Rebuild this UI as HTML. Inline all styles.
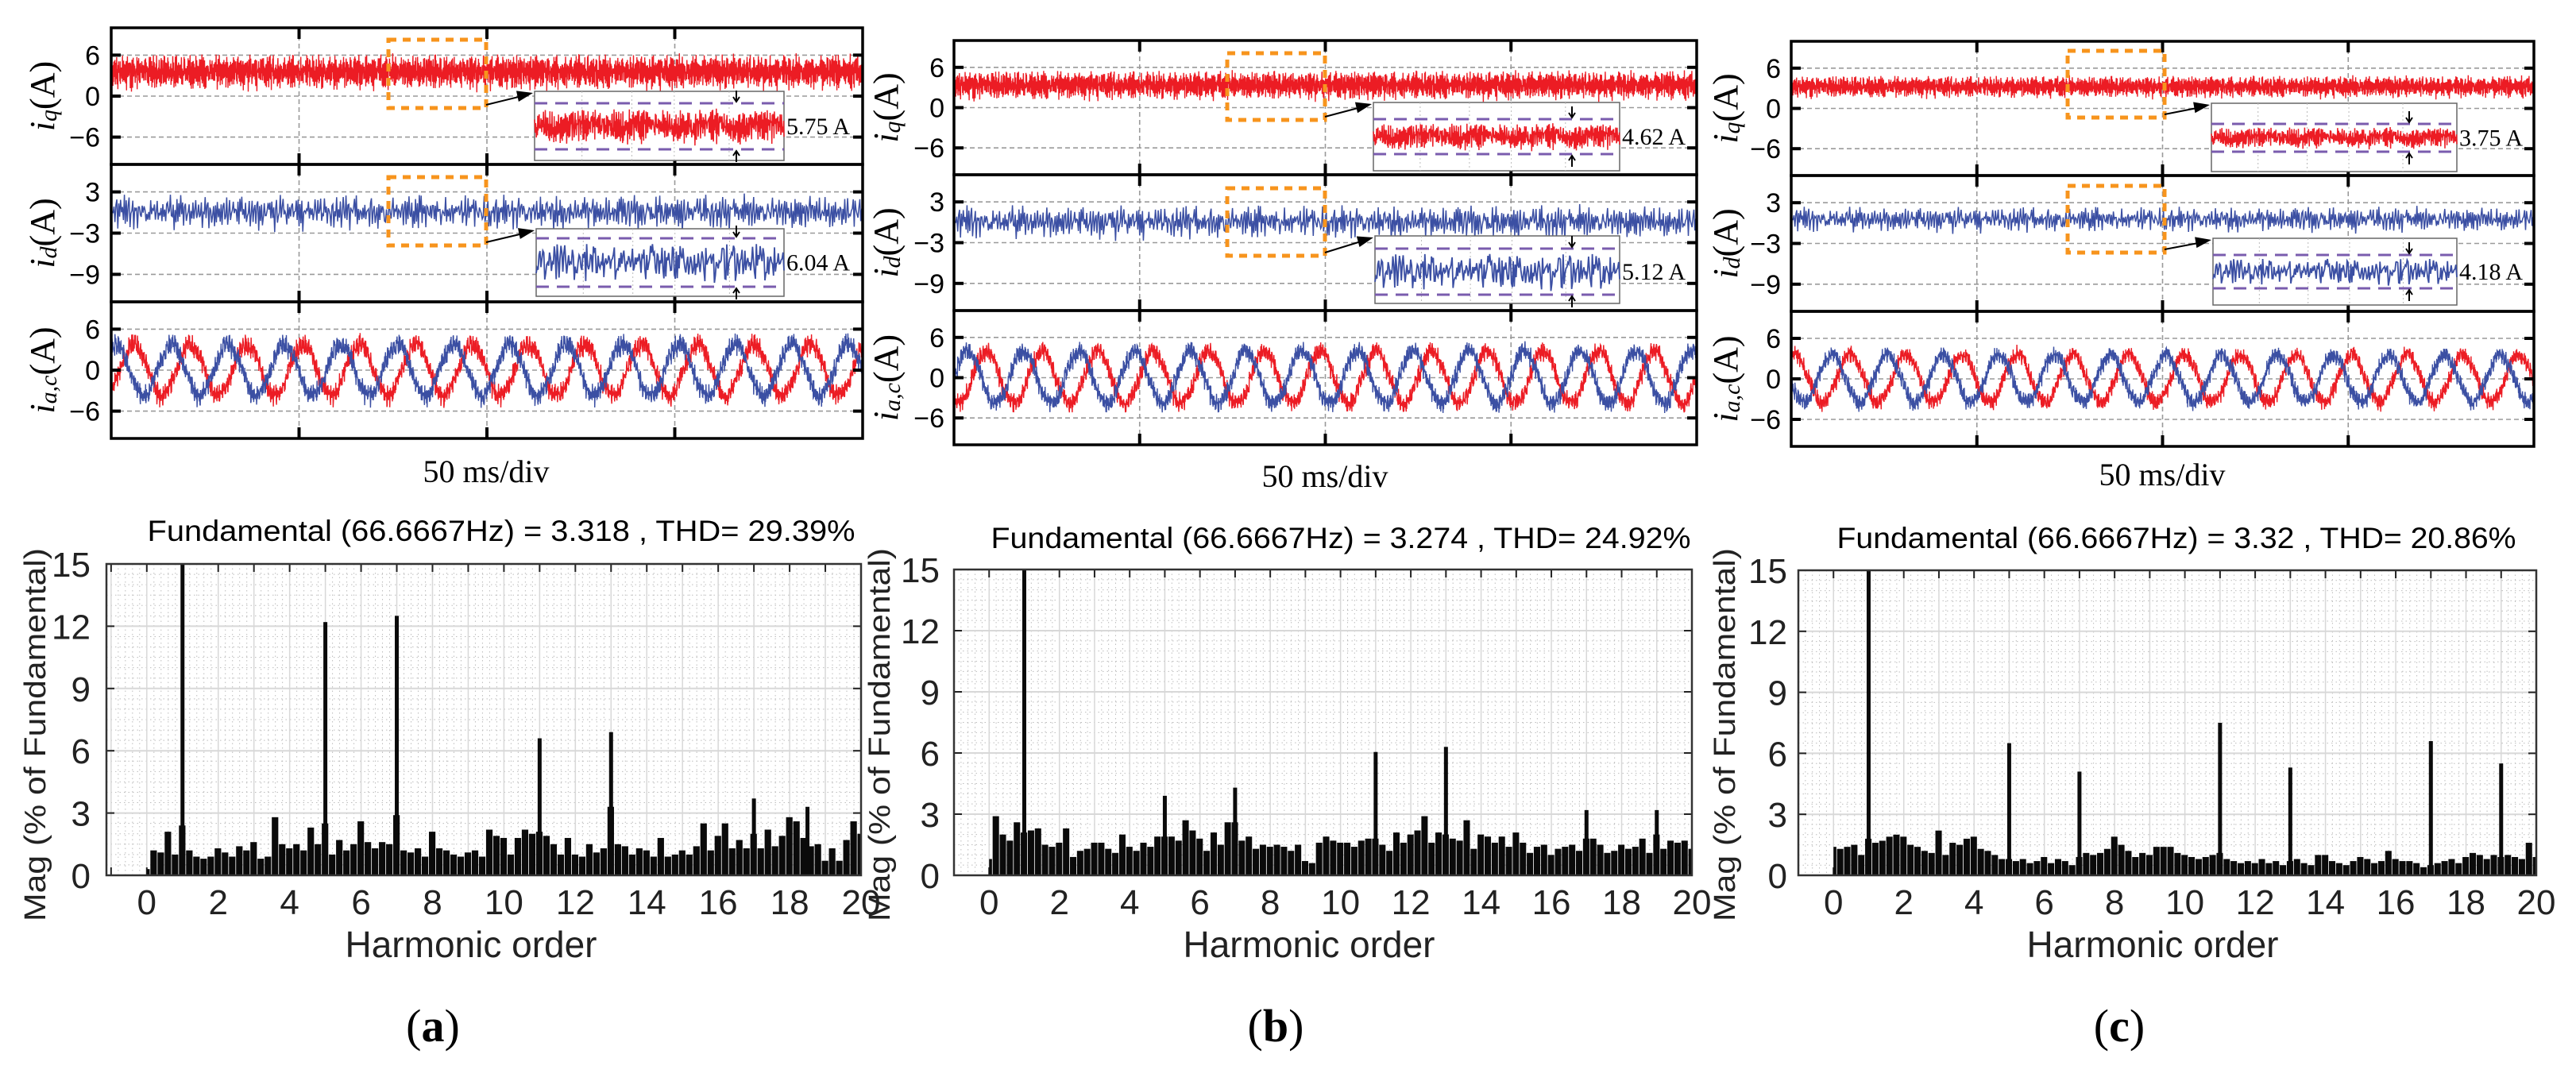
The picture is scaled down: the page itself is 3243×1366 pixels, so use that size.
<!DOCTYPE html>
<html><head><meta charset="utf-8"><title>Current waveforms and harmonic spectra</title>
<style>
html,body{margin:0;padding:0;background:#fff;}
svg{display:block;}
.sans{font-family:"Liberation Sans",sans-serif;}
.serif{font-family:"Liberation Serif",serif;}
</style></head>
<body>
<svg id="fig" xmlns="http://www.w3.org/2000/svg" width="3243" height="1366" viewBox="0 0 3243 1366"></svg>
<script>
// ---------- DATA ----------
const panelLetters = ['a','b','c'];
const titleTexts = ['Fundamental (66.6667Hz) = 3.318 , THD= 29.39%','Fundamental (66.6667Hz) = 3.274 , THD= 24.92%','Fundamental (66.6667Hz) = 3.32 , THD= 20.86%'];
const iqMean = [3.5, 3.3, 3.2];
const iqHalf = [3.0, 2.5, 1.9];
const idMean = [0.0, 0.0, 0.5];
const idHalf = [3.0, 2.9, 2.2];
const acAmp = [3.8, 3.8, 3.6];
const acNoise = [1.9, 1.8, 1.6];
const acRedPeakMs = [21, 8.6, 1.0];
const insetTopVals = [5.75, 4.62, 3.75];
const insetMidVals = [6.04, 5.12, 4.18];
const iqTicks = [6, 0, -6];
const idTicks = [3, -3, -9];
const acTicks = [6, 0, -6];
const specYTicks = [0, 3, 6, 9, 12, 15];
const specXTicks = [0, 2, 4, 6, 8, 10, 12, 14, 16, 18, 20];
const noisePattern = [0.82,-0.35,0.41,-0.93,0.17,0.66,-0.58,0.05,-0.21,0.94,-0.72,0.33,-0.12,0.58,-0.87,0.24,0.71,-0.46,-0.03,0.89,-0.64,0.12,0.47,-0.98,0.36,-0.27,0.77,-0.51,0.09,0.62,-0.81,0.28,-0.39,0.53,-0.15,0.85,-0.69];
// spectrum floor, one value per 0.2 harmonic order from 0 to 20
const floorA = [0.3,1.2,1.1,2.1,1.0,2.4,1.2,0.9,0.8,0.9,1.3,1.1,0.9,1.4,1.2,1.6,0.8,0.9,2.8,1.5,1.3,1.5,1.2,2.3,1.5,2.5,1.0,1.7,1.2,1.5,2.6,1.6,1.3,1.6,1.5,2.9,1.2,1.1,1.3,0.9,2.1,1.3,1.2,1.0,0.9,1.1,1.2,0.9,2.2,1.9,1.8,1.0,1.8,2.2,2.0,2.1,1.9,1.5,1.0,1.8,1.0,0.9,1.5,1.1,1.3,3.3,1.5,1.4,1.0,1.3,1.2,0.9,1.8,0.9,1.0,1.2,1.0,1.4,2.5,1.2,1.9,2.5,1.3,1.7,1.3,2.0,1.3,2.2,1.4,1.9,2.8,2.6,1.8,1.4,1.5,0.7,1.3,0.7,1.7,2.6,2.0];
const floorB = [0.8,2.9,2.0,1.7,2.6,2.1,2.2,2.3,1.5,1.4,1.6,2.3,0.9,1.2,1.3,1.6,1.6,1.3,1.1,2.0,1.4,1.2,1.6,1.4,1.9,1.9,1.9,1.7,2.7,2.2,1.8,1.2,2.1,1.5,2.6,2.6,1.7,1.9,1.3,1.5,1.4,1.5,1.4,1.2,1.5,0.7,0.6,1.6,1.9,1.7,1.6,1.6,1.4,1.7,1.8,1.8,1.5,1.2,2.1,1.6,2.0,2.2,2.9,1.6,2.1,2.0,1.8,1.7,2.7,1.3,2.0,1.9,1.6,1.9,1.4,2.1,1.6,1.1,1.4,1.5,1.0,1.3,1.4,1.5,1.2,1.8,1.8,1.5,1.1,1.2,1.5,1.3,1.4,1.8,1.1,2.0,1.3,1.7,1.6,1.7,1.3];
const floorC = [1.4,1.3,1.4,1.5,1.0,1.8,1.6,1.7,1.9,2.0,1.9,1.5,1.4,1.2,1.1,2.2,1.0,1.6,1.5,1.8,1.9,1.3,1.2,1.0,0.8,0.8,0.7,0.8,0.6,0.7,0.9,0.6,0.8,0.7,0.5,0.9,1.1,1.0,1.1,1.3,1.9,1.5,1.2,0.9,1.1,1.0,1.4,1.4,1.4,1.1,1.0,0.9,0.8,0.9,1.0,1.1,0.8,0.7,0.6,0.7,0.6,0.8,0.6,0.7,0.5,0.7,0.8,0.6,0.5,1.0,1.0,0.7,0.6,0.5,0.7,0.9,0.8,0.6,0.7,1.2,0.8,0.7,0.7,0.6,0.4,0.5,0.6,0.7,0.8,0.6,0.9,1.1,1.0,0.8,1.0,0.9,1.0,0.9,0.8,1.6,0.9];
const peakOrdA = [1, 5, 7, 11, 13, 17, 18.5];
const peakValA = [15, 12.2, 12.5, 6.6, 6.9, 3.7, 3.3];
const peakOrdB = [1, 5, 7, 11, 13, 17, 19];
const peakValB = [15, 3.9, 4.3, 6.05, 6.3, 3.2, 3.2];
const peakOrdC = [1, 5, 7, 11, 13, 17, 19];
const peakValC = [15, 6.5, 5.1, 7.5, 5.3, 6.6, 5.5];
const floors = [floorA, floorB, floorC];
const peakOrds = [peakOrdA, peakOrdB, peakOrdC];
const peakVals = [peakValA, peakValB, peakValC];

// ---------- LAYOUT ----------
const LAYOUT = [
 {x0:140,x1:1086,subs:[[35,207],[207,380],[380,552]],tickR:126,ylx:53,
  spec:{x0:134,x1:1084,y0:710,y1:1102,xmin:-1.13,tickR:114,ylx:45},
  orT:[489,50,612,136],orM:[489,223,612,309],inT:[673,115,987,202],puT:[130,188],inM:[675,288,987,373],puM:[300,361],
  msX:612,msY:593,tX:631,tY:668,tW:891,hX:593,lX:545},
 {x0:1201,x1:2136,subs:[[51,220],[220,391],[391,560]],tickR:1189,ylx:1115,
  spec:{x0:1201,x1:2130,y0:717,y1:1102,xmin:-1,tickR:1183,ylx:1108},
  orT:[1545,67,1668,151],orM:[1545,237,1668,322],inT:[1729,129,2039,215],puT:[150,194],inM:[1731,297,2039,382],puM:[313,371],
  msX:1668,msY:599,tX:1688,tY:677,tW:881,hX:1648,lX:1606},
 {x0:2255,x1:3190,subs:[[52,221],[221,392],[392,562]],tickR:2242,ylx:2172,
  spec:{x0:2264,x1:3193,y0:718,y1:1102,xmin:-1,tickR:2250,ylx:2172},
  orT:[2603,64,2725,148],orM:[2603,234,2725,318],inT:[2784,130,3093,216],puT:[156,191],inM:[2786,300,3093,384],puM:[321,363],
  msX:2722,msY:597,tX:2740,tY:677,tW:855,hX:2710,lX:2668}
];
const RED='#ec1c24', BLUE='#3b4fa3', ORANGE='#f7941d', PURPLE='#7a5cae';
const NS='http://www.w3.org/2000/svg';
const svg=document.getElementById('fig');
function mk(tag, attrs, parent){const e=document.createElementNS(NS,tag);for(const k in attrs)e.setAttribute(k,attrs[k]);(parent||svg).appendChild(e);return e;}
function nz(i){const L=noisePattern.length;
  const a=noisePattern[(i+7*Math.floor(i/L)+3*Math.floor(i/(L*L)))%L];
  const b=noisePattern[(i*5+Math.floor(i/11)+13*Math.floor(i/97))%L];
  return (a+0.6*b)/1.6;}

LAYOUT.forEach((P,pi)=>{
  const g=mk('g',{});
  
  
  const W=P.x1-P.x0;
  const sx=t=>P.x0+t/200*W;
  const subDefs=[{range:[-10,10],ticks:iqTicks,key:'iq',sub:'q'},{range:[-13,7],ticks:idTicks,key:'id',sub:'d'},{range:[-10,10],ticks:acTicks,key:'iac',sub:'a,c'}];
  subDefs.forEach((S,si)=>{
    const [ya,yb]=P.subs[si];
    const sy=v=>yb-(v-S.range[0])/(S.range[1]-S.range[0])*(yb-ya);
    const sg=mk('g',{},g);
    
    
    const clipId='clip'+pi+'_'+si;
    const cp=mk('clipPath',{id:clipId},sg);
    mk('rect',{x:P.x0,y:ya,width:W,height:yb-ya},cp);
    S.ticks.forEach(v=>{
      const gl=mk('line',{x1:P.x0,x2:P.x1,y1:sy(v),y2:sy(v),stroke:'#9a9a9a','stroke-width':1.6,'stroke-dasharray':'6 4'},sg);
      
      
    });
    [50,100,150].forEach(t=>{
      const gl=mk('line',{x1:sx(t),x2:sx(t),y1:ya,y2:yb,stroke:'#9a9a9a','stroke-width':1.6,'stroke-dasharray':'6 4'},sg);
      
      
    });
    const tg=mk('g',{'clip-path':'url(#'+clipId+')'},sg);
    if(si===0){
      const N=2600;let pts=[];
      for(let i=0;i<=N;i++)pts.push(sx(i/N*200).toFixed(1)+','+sy(iqMean[pi]+iqHalf[pi]*nz(i)).toFixed(1));
      const tr=mk('polyline',{points:pts.join(' '),fill:'none',stroke:RED,'stroke-width':1.4},tg);
      
      
    } else if(si===1){
      const N=800;let pts=[];
      for(let i=0;i<=N;i++)pts.push(sx(i/N*200).toFixed(1)+','+sy(idMean[pi]+idHalf[pi]*nz(i+300)).toFixed(1));
      const tr=mk('polyline',{points:pts.join(' '),fill:'none',stroke:BLUE,'stroke-width':1.5},tg);
      
      
    } else {
      const f=66.6667;
      [[RED,0,'ia-trace'],[BLUE,-5,'ic-trace']].forEach(([col,shift,name],k)=>{
        const N=2600;let pts=[];
        for(let i=0;i<=N;i++){const t=i/N*200;const v=acAmp[pi]*Math.cos(2*Math.PI*f*(t-acRedPeakMs[pi]-shift)/1000)+acNoise[pi]*nz(i*3+k*17);pts.push(sx(t).toFixed(1)+','+sy(v).toFixed(1));}
        const tr=mk('polyline',{points:pts.join(' '),fill:'none',stroke:col,'stroke-width':1.4},tg);
        
        
      });
    }
    [50,100,150].forEach(t=>{
      const a=mk('line',{x1:sx(t),x2:sx(t),y1:ya,y2:ya+14,stroke:'#000','stroke-width':4},sg);
      
      
      const b=mk('line',{x1:sx(t),x2:sx(t),y1:yb,y2:yb-14,stroke:'#000','stroke-width':4},sg);
      
      
    });
    S.ticks.forEach(v=>{
      const a=mk('line',{x1:P.x0,x2:P.x0+12,y1:sy(v),y2:sy(v),stroke:'#000','stroke-width':4},sg);
      
      
      const b=mk('line',{x1:P.x1,x2:P.x1-12,y1:sy(v),y2:sy(v),stroke:'#000','stroke-width':4},sg);
      
      
      const tl=mk('text',{x:P.tickR,y:sy(v)+12,'text-anchor':'end','font-size':34,class:'sans',fill:'#000'},sg);
      tl.textContent=(v<0?'\u2212':'')+Math.abs(v);
      
      
    });
    const fr=mk('rect',{x:P.x0,y:ya,width:W,height:yb-ya,fill:'none',stroke:'#000','stroke-width':3.5},sg);
    
    
    const cy=(ya+yb)/2;
    const yl=mk('text',{x:P.ylx,y:cy,transform:'rotate(-90 '+P.ylx+' '+cy+')','text-anchor':'middle','dominant-baseline':'central','font-size':44,class:'serif'},sg);
    yl.innerHTML='<tspan font-style="italic">i</tspan><tspan font-style="italic" font-size="30" dy="8">'+S.sub+'</tspan><tspan dy="-8">(A)</tspan>';
    
    
  });

  [[P.orT,P.inT,P.puT,insetTopVals[pi],RED,'iq'],[P.orM,P.inM,P.puM,insetMidVals[pi],BLUE,'id']].forEach(([orb,inb,pu,val,col,key],k)=>{
    const ob=mk('rect',{x:orb[0],y:orb[1],width:orb[2]-orb[0],height:orb[3]-orb[1],fill:'none',stroke:ORANGE,'stroke-width':5,'stroke-dasharray':'10 8'},g);
    
    
    const ar=mk('line',{x1:orb[2],y1:orb[3]-4,x2:inb[0]-8,y2:inb[1]+4,stroke:'#000','stroke-width':2},g);
    
    
    const dx=inb[0]-orb[2],dy=(inb[1]+4)-(orb[3]-4),L=Math.hypot(dx,dy),ux=dx/L,uy=dy/L;
    const tx=inb[0]-2,ty=inb[1]+2;
    const ah=mk('polygon',{points:`${tx},${ty} ${tx-20*ux-7*uy},${ty-20*uy+7*ux} ${tx-20*ux+7*uy},${ty-20*uy-7*ux}`,fill:'#000'},g);
    
    
    const ib=mk('rect',{x:inb[0],y:inb[1],width:inb[2]-inb[0],height:inb[3]-inb[1],fill:'#fff',stroke:'#666','stroke-width':1.5},g);
    
    
    const iw=inb[2]-inb[0];
    [0.19,0.39,0.56,0.78].forEach(fx=>{
      const l=mk('line',{x1:inb[0]+fx*iw,x2:inb[0]+fx*iw,y1:inb[1],y2:inb[3],stroke:'#bbb','stroke-width':1,'stroke-dasharray':'2 3'},g);
      
      
    });
    const mid=(pu[0]+pu[1])/2,half=(pu[1]-pu[0])/2;
    const N=k===0?700:260;let pts=[];
    for(let i=0;i<=N;i++){const v=(k===0?0.85*nz(i*5+7):0.9*nz(i*7+3));pts.push((inb[0]+i/N*iw).toFixed(1)+','+(mid-v*half).toFixed(1));}
    const sig=mk('polyline',{points:pts.join(' '),fill:'none',stroke:col,'stroke-width':k===0?1.5:1.8},g);
    
    
    pu.forEach(yy=>{
      const pl=mk('line',{x1:inb[0],x2:inb[2],y1:yy,y2:yy,stroke:PURPLE,'stroke-width':3,'stroke-dasharray':'16 10'},g);
      
      
    });
    const axx=inb[2]-60;
    const a1=mk('path',{d:`M${axx},${pu[0]-16} L${axx},${pu[0]-2} M${axx-4},${pu[0]-8} L${axx},${pu[0]-2} L${axx+4},${pu[0]-8}`,stroke:'#000','stroke-width':2,fill:'none'},g);
    
    
    const a2=mk('path',{d:`M${axx},${pu[1]+16} L${axx},${pu[1]+2} M${axx-4},${pu[1]+8} L${axx},${pu[1]+2} L${axx+4},${pu[1]+8}`,stroke:'#000','stroke-width':2,fill:'none'},g);
    
    
    const vt=mk('text',{x:inb[2]+3,y:mid+10,'font-size':30,class:'serif'},g);
    vt.textContent=val.toFixed(2)+' A';
    
    
  });

  const ms=mk('text',{x:P.msX,y:P.msY+14,'text-anchor':'middle','font-size':40,class:'serif'},g);
  ms.textContent='50 ms/div';
  
  

  const Sp=P.spec;
  const gx=h=>Sp.x0+(h-Sp.xmin)/(20-Sp.xmin)*(Sp.x1-Sp.x0);
  const gy=v=>Sp.y1-v/15*(Sp.y1-Sp.y0);
  const sg=mk('g',{},g);
  
  
  const ti=mk('text',{x:P.tX,y:P.tY+13,'text-anchor':'middle','font-size':37,class:'sans',textLength:P.tW,lengthAdjust:'spacingAndGlyphs'},sg);
  ti.textContent=titleTexts[pi];
  
  
  for(let h=Math.ceil(Sp.xmin/0.2)*0.2;h<20;h+=0.2){
    if(Math.abs(h-Math.round(h))<0.01)continue;
    const l=mk('line',{x1:gx(h),x2:gx(h),y1:Sp.y0,y2:Sp.y1,stroke:'#bdbdbd','stroke-width':1,'stroke-dasharray':'1.5 4'},sg);
    
    
  }
  for(let v=0.5;v<15;v+=0.5){
    if(v%3===0)continue;
    const l=mk('line',{x1:Sp.x0,x2:Sp.x1,y1:gy(v),y2:gy(v),stroke:'#bdbdbd','stroke-width':1,'stroke-dasharray':'1.5 4'},sg);
    
    
  }
  for(let h=Math.ceil(Sp.xmin);h<=20;h++){
    const l=mk('line',{x1:gx(h),x2:gx(h),y1:Sp.y0,y2:Sp.y1,stroke:'#d8d8d8','stroke-width':1.5},sg);
    
    
    const t1=mk('line',{x1:gx(h),x2:gx(h),y1:Sp.y1,y2:Sp.y1-10,stroke:'#222','stroke-width':2},sg);
    
    
    const t2=mk('line',{x1:gx(h),x2:gx(h),y1:Sp.y0,y2:Sp.y0+10,stroke:'#222','stroke-width':2},sg);
    
    
  }
  specYTicks.forEach(v=>{
    const l=mk('line',{x1:Sp.x0,x2:Sp.x1,y1:gy(v),y2:gy(v),stroke:'#d8d8d8','stroke-width':2},sg);
    
    
    const t1=mk('line',{x1:Sp.x0,x2:Sp.x0+10,y1:gy(v),y2:gy(v),stroke:'#222','stroke-width':2},sg);
    
    
    const t2=mk('line',{x1:Sp.x1,x2:Sp.x1-10,y1:gy(v),y2:gy(v),stroke:'#222','stroke-width':2},sg);
    
    
    const tl=mk('text',{x:Sp.tickR,y:gy(v)+16,'text-anchor':'end','font-size':44,class:'sans',fill:'#222'},sg);
    tl.textContent=String(v);
    
    
  });
  specXTicks.forEach(h=>{
    const tl=mk('text',{x:gx(h),y:1151,'text-anchor':'middle','font-size':44,class:'sans',fill:'#222'},sg);
    tl.textContent=String(h);
    
    
  });
  const bw=0.2*(Sp.x1-Sp.x0)/(20-Sp.xmin);
  floors[pi].forEach((v,i)=>{
    const h=i*0.2;if(h>20)return;
    const x=gx(h)-bw/2;const xa=Math.max(x,gx(0));const xb=Math.min(x+bw-0.8,Sp.x1);
    const b=mk('rect',{x:xa,y:gy(v),width:Math.max(xb-xa,0.5),height:Sp.y1-gy(v),fill:'#0a0a0a'},sg);
    
    
  });
  peakOrds[pi].forEach((h,i)=>{
    const v=Math.min(peakVals[pi][i],15);
    const b=mk('rect',{x:gx(h)-2.5,y:gy(v),width:5,height:Sp.y1-gy(v),fill:'#0a0a0a'},sg);
    
    
  });
  const fr=mk('rect',{x:Sp.x0,y:Sp.y0,width:Sp.x1-Sp.x0,height:Sp.y1-Sp.y0,fill:'none',stroke:'#333','stroke-width':2.5},sg);
  
  
  const xt=mk('text',{x:P.hX,y:1205,'text-anchor':'middle','font-size':46,class:'sans',fill:'#222'},sg);
  xt.textContent='Harmonic order';
  
  
  const cy=925;
  const yt=mk('text',{x:Sp.ylx,y:cy,transform:'rotate(-90 '+Sp.ylx+' '+cy+')','text-anchor':'middle','dominant-baseline':'central','font-size':38,class:'sans',fill:'#222',textLength:470,lengthAdjust:'spacingAndGlyphs'},sg);
  yt.textContent='Mag (% of Fundamental)';
  
  
  const lb=mk('text',{x:P.lX,y:1311,'text-anchor':'middle','font-size':58,class:'serif'},g);
  lb.innerHTML='(<tspan font-weight="bold">'+panelLetters[pi]+'</tspan>)';
  
  
});
</script>
</body></html>
